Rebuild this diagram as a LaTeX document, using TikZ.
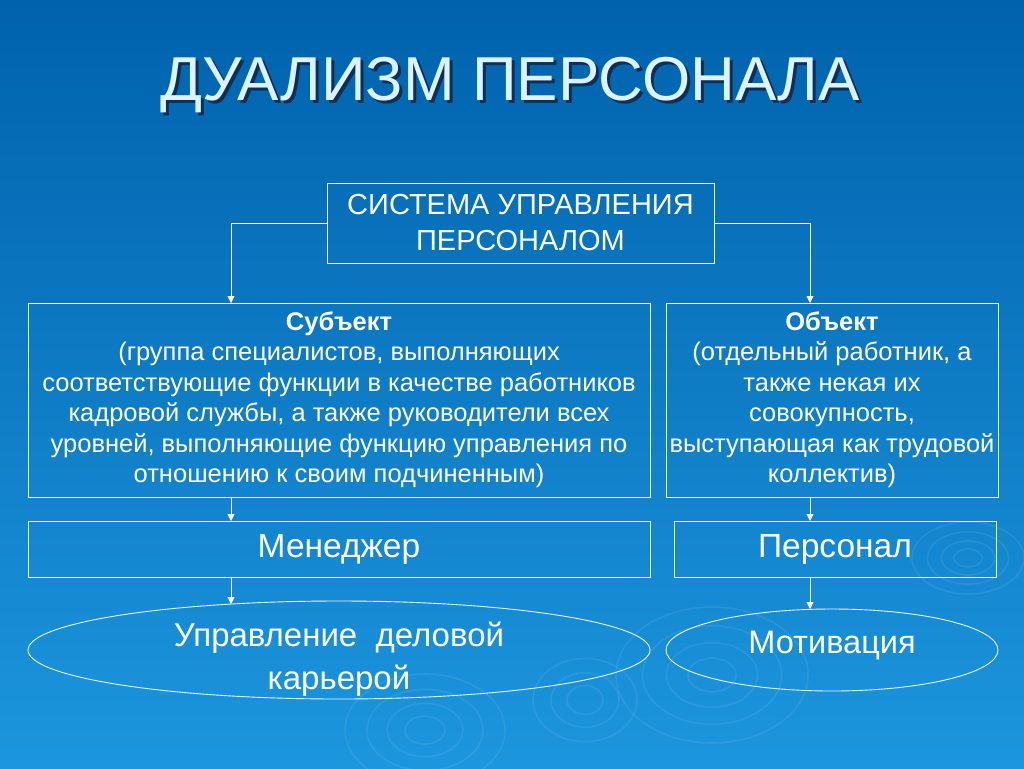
\documentclass[tikz,border=0pt]{standalone}
\usepackage{fontspec}
\setmainfont{Liberation Sans}
\definecolor{dpTop}{HTML}{0062AC}
\definecolor{dpBottom}{HTML}{1C96DE}
\definecolor{dpTitle}{HTML}{DDF2FF}
\definecolor{dpShadow}{HTML}{0B2F55}
\definecolor{dpLine}{HTML}{EAF6FF}
\usetikzlibrary{arrows.meta,shapes.geometric}

\tikzset{
  dpbox/.style={draw=dpLine, line width=0.9pt, inner sep=0pt, outer sep=0pt, text=white, align=center},
  dpoval/.style={draw=dpLine, line width=0.9pt, ellipse, inner sep=0pt, outer sep=0pt},
  dparrow/.style={draw=white, line width=0.8pt, -{Triangle[width=7pt,length=7pt]}},
  ripple/.style={draw=white, opacity=0.08, line width=1.6pt}
}

\begin{document}
\begin{tikzpicture}[x=1pt, y=-1pt]
  \useasboundingbox (0,0) rectangle (1024,768);
  \shade[top color=dpTop, bottom color=dpBottom] (0,0) rectangle (1024,768);
  % background ripples
  \foreach \r in {20,38,58,80} {
    \draw[ripple] (425,730) ellipse ({\r} and {0.7*\r});
    \draw[ripple] (712,675) ellipse ({1.2*\r} and {0.85*\r});
    \draw[ripple] (968,558) ellipse ({0.7*\r} and {0.45*\r});
  }
  \foreach \r in {18,34,52} \draw[ripple] (585,700) ellipse ({\r} and {0.8*\r});

  % title
  \node[anchor=base, font=\fontsize{62}{70}\selectfont, text=dpShadow] at (513,103) {ДУАЛИЗМ ПЕРСОНАЛА};
  \node[anchor=base, font=\fontsize{62}{70}\selectfont, text=dpTitle] (title) at (510,100) {ДУАЛИЗМ ПЕРСОНАЛА};

  % boxes
  \node[dpbox, minimum width=387pt, minimum height=80pt, font=\fontsize{29}{36}\selectfont] (sys) at (520.5,223) {СИСТЕМА УПРАВЛЕНИЯ\\ПЕРСОНАЛОМ};
  \node[dpbox, minimum width=622pt, minimum height=194pt, font=\fontsize{25.5}{30.5}\selectfont] (subj) at (339,400)
    {\textbf{Субъект}\\(группа специалистов, выполняющих\\соответствующие функции в качестве работников\\кадровой службы, а также руководители всех\\уровней, выполняющие функцию управления по\\отношению к своим подчиненным)};
  \node[dpbox, minimum width=332pt, minimum height=194pt, font=\fontsize{25.5}{30.5}\selectfont] (obj) at (832,400)
    {\textbf{Объект}\\(отдельный работник, а\\также некая их\\совокупность,\\выступающая как трудовой\\коллектив)};
  \node[dpbox, minimum width=622pt, minimum height=56pt, font=\fontsize{33.5}{38}\selectfont] (mgr) at (339,549) {Менеджер};
  \node[dpbox, minimum width=322pt, minimum height=56pt, font=\fontsize{33.5}{38}\selectfont] (staff) at (835,549) {Персонал};
  \node[dpoval, minimum width=622pt, minimum height=98pt] (career) at (339,650) {};
  \node[text=white, align=center, font=\fontsize{33}{43}\selectfont] at (339,659) {Управление\ \ деловой\\карьерой};
  \node[dpoval, minimum width=332pt, minimum height=82pt] (motiv) at (832,650) {};
  \node[text=white, font=\fontsize{32.5}{38}\selectfont] at (832,646) {Мотивация};

  % connectors
  \draw[dparrow] (sys.west) -| ([xshift=-108pt]subj.north);
  \draw[dparrow] (sys.east) -| ([xshift=-22pt]obj.north);
  \draw[dparrow] ([xshift=-108pt]subj.south) -- ([xshift=-108pt]mgr.north);
  \draw[dparrow] ([xshift=-22pt]obj.south) -- ([xshift=-25pt]staff.north);
  \draw[dparrow] ([xshift=-108pt]mgr.south) -- ([xshift=-108pt]mgr.south |- career.157);
  \draw[dparrow] ([xshift=-25pt]staff.south) -- ([xshift=-25pt]staff.south |- motiv.north);
\end{tikzpicture}
\end{document}
